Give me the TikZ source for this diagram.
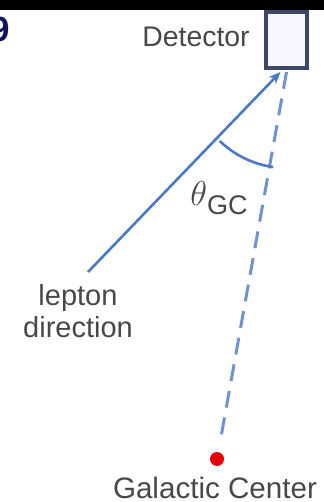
\documentclass[tikz,border=0pt]{standalone}
\usepackage{fontspec}
\setmainfont{Liberation Sans}
\usetikzlibrary{arrows.meta,positioning}

\definecolor{leptonblue}{RGB}{74,122,196}
\definecolor{dashblue}{RGB}{112,146,206}
\definecolor{detframe}{RGB}{60,72,104}
\definecolor{labelgray}{RGB}{72,72,72}
\definecolor{navy}{RGB}{20,20,92}

\begin{document}
\begin{tikzpicture}[x=5pt, y=5pt, >={Stealth[length=6pt,width=5pt]},
    lbl/.style={text=labelgray, inner sep=0pt, font=\fontsize{14.5}{17}\selectfont}]
  \useasboundingbox (0,0) rectangle (32.4,50.2);
  \clip (0,0) rectangle (32.4,50.2);
  % top bar and cut-off page number
  \fill[black] (0,49.2) rectangle (32.4,50.2);
  \node[anchor=east, inner sep=0pt, text=navy, font=\fontsize{17.5}{20}\selectfont\bfseries] (pagenum) at (1.0,47.25) {9};

  % detector
  \node[draw=detframe, line width=2.4pt, fill=blue!3, minimum width=20.5pt, minimum height=28pt, inner sep=0pt] (detector) at (28.65,46.2) {};
  \node[lbl, font=\fontsize{14.2}{17}\selectfont] (detlabel) at (19.6,46.5) {Detector};

  % galactic center
  \fill[red!90!black] (21.7,4.3) circle (0.7);
  \coordinate (gc) at (21.7,4.3);
  \coordinate (gcend) at (22.1,6.5);
  \node[lbl, font=\fontsize{14.8}{17}\selectfont] (gclabel) at (21.5,1.4) {Galactic Center};

  % lepton direction
  \node[lbl, align=center] (lepton) at (7.8,19.1) {lepton\\[-1pt]direction};
  \coordinate (lstart) at (8.8,23.0);
  \coordinate (apex) at (28.65,43.0);
  \draw[->, leptonblue, line width=1.3pt] (lstart) -- ([xshift=-3pt]apex);
  \draw[dashblue, line width=1.5pt, dash pattern=on 8.5pt off 5pt] (apex) -- (gcend);

  % angle
  \draw[leptonblue, line width=1.3pt] ([shift={(226:9.6)}]apex) arc[start angle=226, end angle=262, radius=9.6];
  \node[lbl] (theta) at (21.9,30.4) {\fontsize{18.5}{20}\selectfont$\theta$\raisebox{-4.5pt}{\fontsize{13.5}{15}\selectfont GC}};
\end{tikzpicture}
\end{document}
